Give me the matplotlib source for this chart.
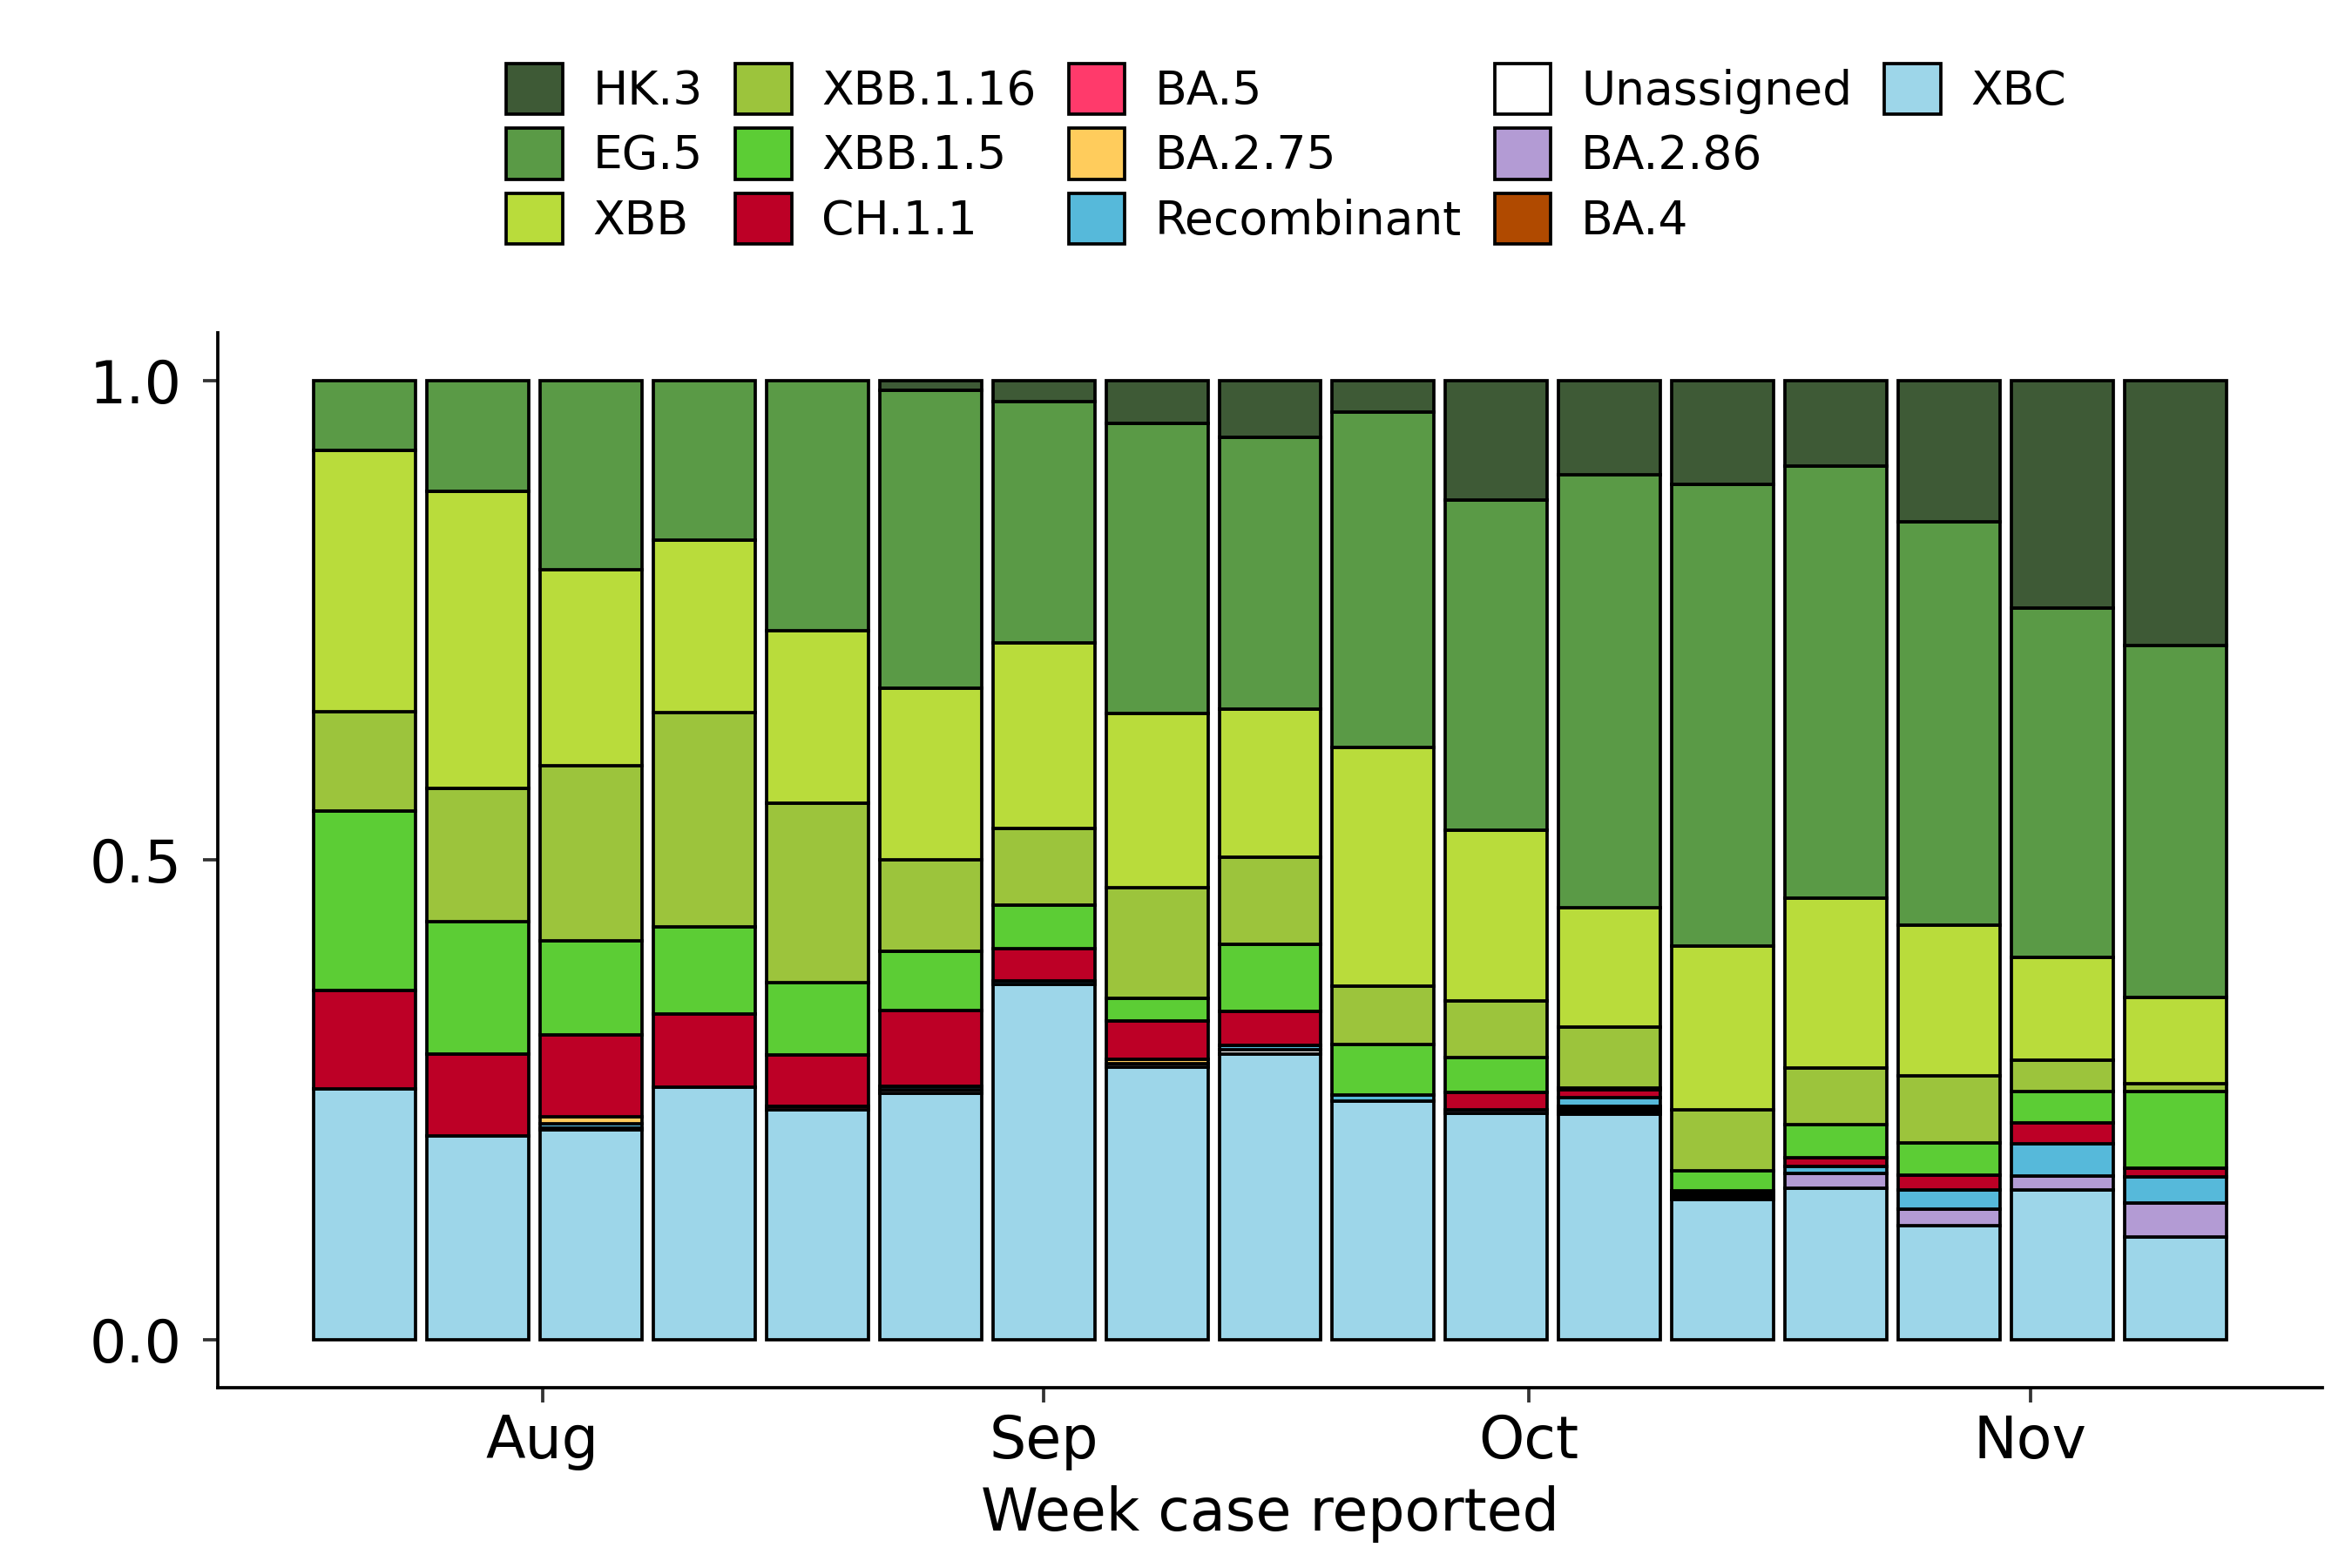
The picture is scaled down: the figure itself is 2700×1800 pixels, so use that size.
import numpy as np
import matplotlib
matplotlib.use("Agg")
import matplotlib.pyplot as plt
import matplotlib.dates as mdates
from matplotlib.patches import Rectangle
import datetime as dt

plt.rcParams['font.family'] = ['DejaVu Sans']

# ---- data ----
weeks = ["2023-07-21", "2023-07-28", "2023-08-04", "2023-08-11", "2023-08-18",
         "2023-08-25", "2023-09-01", "2023-09-08", "2023-09-15", "2023-09-22",
         "2023-09-29", "2023-10-06", "2023-10-13", "2023-10-20", "2023-10-27",
         "2023-11-03", "2023-11-10"]

# legend order (top of stack first)
variants = ["HK.3", "EG.5", "XBB", "XBB.1.16", "XBB.1.5", "CH.1.1", "BA.5",
            "BA.2.75", "Recombinant", "Unassigned", "BA.2.86", "BA.4", "XBC"]

hk3 = [0, 0, 0, 0, 0, 0.0105, 0.022, 0.045, 0.059, 0.033, 0.125, 0.098, 0.108, 0.089, 0.147, 0.2375, 0.276]
eg5 = [0.073, 0.116, 0.197, 0.166, 0.261, 0.310, 0.252, 0.302, 0.284, 0.350, 0.344, 0.452, 0.482, 0.451, 0.421, 0.3635, 0.367]
xbb = [0.272, 0.309, 0.204, 0.180, 0.179, 0.179, 0.193, 0.182, 0.154, 0.248, 0.178, 0.124, 0.170, 0.177, 0.157, 0.1075, 0.090]
xbb116 = [0.103, 0.139, 0.182, 0.223, 0.187, 0.095, 0.080, 0.115, 0.091, 0.061, 0.059, 0.064, 0.064, 0.059, 0.070, 0.032, 0.008]
xbb15 = [0.187, 0.138, 0.098, 0.091, 0.075, 0.062, 0.045, 0.024, 0.070, 0.053, 0.036, 0.001, 0.021, 0.034, 0.033, 0.033, 0.080]
ch11 = [0.103, 0.086, 0.085, 0.0765, 0.054, 0.079, 0.034, 0.040, 0.035, 0, 0.018, 0.009, 0.002, 0.009, 0.016, 0.022, 0.009]
ba5 = [0, 0, 0, 0, 0.004, 0, 0, 0, 0, 0, 0, 0, 0, 0, 0, 0, 0]
ba275 = [0, 0, 0.007, 0, 0, 0, 0, 0.004, 0, 0, 0, 0, 0, 0, 0, 0, 0]
recomb = [0, 0, 0.005, 0, 0, 0.004, 0.004, 0, 0.005, 0.006, 0, 0.009, 0.002, 0.008, 0.020, 0.033, 0.027]
unassigned = [0, 0, 0.002, 0, 0, 0.003, 0, 0.004, 0.004, 0, 0, 0.002, 0.002, 0, 0, 0, 0]
ba286 = [0, 0, 0, 0, 0, 0, 0, 0, 0, 0, 0.004, 0.003, 0.002, 0.015, 0.017, 0.015, 0.0355]
ba4 = [0, 0, 0, 0, 0, 0, 0, 0, 0, 0, 0, 0.003, 0.001, 0, 0, 0, 0]
xbc = [0.261, 0.212, 0.218, 0.263, 0.239, 0.257, 0.370, 0.284, 0.298, 0.249, 0.236, 0.235, 0.146, 0.158, 0.119, 0.156, 0.107]

colors = ["#3E5A36", "#5A9A46", "#B9DC3B", "#9CC43C", "#5CCD35", "#BD0026",
          "#FF3A6B", "#FFCC5C", "#56B9DA", "#FFFFFF", "#B39BD4", "#B04A00",
          "#9DD6E9"]

series = [hk3, eg5, xbb, xbb116, xbb15, ch11, ba5, ba275, recomb,
          unassigned, ba286, ba4, xbc]

# ---- figure ----
fig = plt.figure(figsize=(9, 6), dpi=300)
ax = fig.add_axes([0.0926, 0.115, 0.8948, 0.673])

dates = np.array([mdates.date2num(dt.datetime.strptime(d, "%Y-%m-%d")) for d in weeks])
vals = np.array(series, dtype=float)
vals = vals / vals.sum(axis=0, keepdims=True)  # position = "fill"

width = 6.3
lw = 0.9
bottom = np.zeros(len(dates))
# stack from bottom: last variant (XBC) at the bottom
for k in range(len(variants) - 1, -1, -1):
    v = vals[k]
    m = v > 0
    ax.bar(dates[m], v[m], width=width, bottom=bottom[m], color=colors[k],
           edgecolor="black", linewidth=lw, zorder=2)
    bottom += v

span = (dates[-1] + width / 2) - (dates[0] - width / 2)
ax.set_xlim(dates[0] - width / 2 - 0.05 * span, dates[-1] + width / 2 + 0.05 * span)
ax.set_ylim(-0.05, 1.05)

ax.set_yticks([0.0, 0.5, 1.0])
ax.set_yticklabels(["0.0", "0.5", "1.0"])
month_ticks = [mdates.date2num(dt.datetime(2023, m, 1)) for m in (8, 9, 10, 11)]
ax.set_xticks(month_ticks)
ax.set_xticklabels(["Aug", "Sep", "Oct", "Nov"])

for s in ["top", "right"]:
    ax.spines[s].set_visible(False)
for s in ["left", "bottom"]:
    ax.spines[s].set_linewidth(0.9)
    ax.spines[s].set_color("black")

ax.tick_params(axis="both", length=4, width=0.9, color="#333333",
               labelsize=16, labelcolor="black")
ax.tick_params(axis="y", pad=6)
ax.tick_params(axis="x", pad=3)
ax.set_xlabel("Week case reported", fontsize=16, labelpad=4)

# ---- legend (5 columns, filled column-wise, 3 rows) ----
handles = [Rectangle((0, 0), 1, 1, facecolor=c, edgecolor="black", linewidth=lw)
           for c in colors]
labels = list(variants)
blank = Rectangle((0, 0), 1, 1, facecolor="none", edgecolor="none")
handles += [blank, blank]
labels += ["", ""]
fig.legend(handles, labels, ncol=5, loc="center",
           bbox_to_anchor=(0.547, 0.902), frameon=False, fontsize=12.85,
           handlelength=1.2, handleheight=1.3, labelspacing=0.3,
           handletextpad=0.65, columnspacing=0.7, borderpad=0)

fig.savefig("out.png", dpi=300)
